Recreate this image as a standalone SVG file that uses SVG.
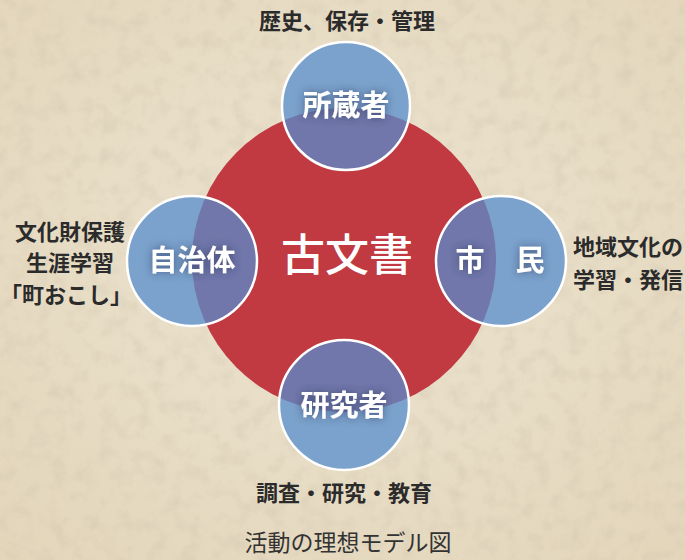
<svg xmlns="http://www.w3.org/2000/svg" width="685" height="560" viewBox="0 0 685 560">
  <defs>
    <radialGradient id="bg" cx="50%" cy="45%" r="75%">
      <stop offset="0" stop-color="#EDE4D0"/>
      <stop offset="1" stop-color="#E2D5BA"/>
    </radialGradient>
    <filter id="paper" x="0" y="0" width="100%" height="100%">
      <feTurbulence type="fractalNoise" baseFrequency="0.06" numOctaves="4" seed="7" result="n"/>
      <feColorMatrix in="n" type="matrix" values="0 0 0 0 0.6  0 0 0 0 0.52  0 0 0 0 0.4  0 0 0 0.8 -0.35" result="c"/>
      <feComposite in="c" in2="SourceGraphic" operator="over"/>
    </filter>
    <filter id="glow" x="-30%" y="-50%" width="160%" height="200%">
      <feGaussianBlur in="SourceAlpha" stdDeviation="4" result="b"/>
      <feFlood flood-color="#2A3560" flood-opacity="0.7"/>
      <feComposite in2="b" operator="in" result="s"/>
      <feMerge><feMergeNode in="s"/><feMergeNode in="SourceGraphic"/></feMerge>
    </filter>
    <clipPath id="redclip"><circle cx="344" cy="260" r="152"/></clipPath>
    <style>
      .blue { fill: #7BA2CC; stroke: none; }
      .ov { fill: #7177AA; }
      .ring { fill: none; stroke: #FFFFFF; stroke-width: 2.5; }
      .node { font-family: "Noto Sans CJK JP", "Noto Sans", sans-serif; font-size: 29px; font-weight: 700; fill: #FFFFFF; text-anchor: middle; }
      .lbl { font-family: "Noto Sans CJK JP", "Noto Sans", sans-serif; font-size: 22px; font-weight: 700; fill: #2B2B2B; }
      .cap { font-family: "Noto Sans CJK JP", "Noto Sans", sans-serif; font-size: 23px; font-weight: 400; fill: #333333; text-anchor: middle; }
    </style>
  </defs>

  <rect width="685" height="560" fill="url(#bg)" filter="url(#paper)"/>

  <g id="center">
    <circle cx="344" cy="260" r="152" fill="#C13A41"/>
    <text x="347" y="271" font-family="Noto Sans CJK JP, Noto Sans, sans-serif" font-size="44" font-weight="500" fill="#FFFFFF" text-anchor="middle">古文書</text>
  </g>

  <g id="owner">
    <circle class="blue" cx="346" cy="106" r="64"/>
    <circle class="ov" cx="346" cy="106" r="64" clip-path="url(#redclip)"/>
    <circle class="ring" cx="346" cy="106" r="64"/>
    <text class="node" x="346" y="116" filter="url(#glow)">所蔵者</text>
  </g>

  <g id="municipality">
    <circle class="blue" cx="192" cy="261" r="65"/>
    <circle class="ov" cx="192" cy="261" r="65" clip-path="url(#redclip)"/>
    <circle class="ring" cx="192" cy="261" r="65"/>
    <text class="node" x="192" y="271" filter="url(#glow)">自治体</text>
  </g>

  <g id="citizens">
    <circle class="blue" cx="501" cy="261" r="65"/>
    <circle class="ov" cx="501" cy="261" r="65" clip-path="url(#redclip)"/>
    <circle class="ring" cx="501" cy="261" r="65"/>
    <text class="node" x="470" y="271" filter="url(#glow)">市</text>
    <text class="node" x="530" y="271" filter="url(#glow)">民</text>
  </g>

  <g id="researcher">
    <circle class="blue" cx="344" cy="405" r="65"/>
    <circle class="ov" cx="344" cy="405" r="65" clip-path="url(#redclip)"/>
    <circle class="ring" cx="344" cy="405" r="65"/>
    <text class="node" x="344" y="416" filter="url(#glow)">研究者</text>
  </g>

  <g id="labels">
    <text class="lbl" x="347" y="29" text-anchor="middle">歴史、保存・管理</text>
    <text class="lbl" x="70" y="240" text-anchor="middle">文化財保護</text>
    <text class="lbl" x="70" y="271" text-anchor="middle">生涯学習</text>
    <text class="lbl" x="66" y="303" text-anchor="middle">「町おこし」</text>
    <text class="lbl" x="573" y="255">地域文化の</text>
    <text class="lbl" x="573" y="288">学習・発信</text>
    <text class="lbl" x="344" y="501" text-anchor="middle">調査・研究・教育</text>
  </g>

  <text class="cap" x="348" y="551">活動の理想モデル図</text>

  <g id="connectors"></g>
</svg>
